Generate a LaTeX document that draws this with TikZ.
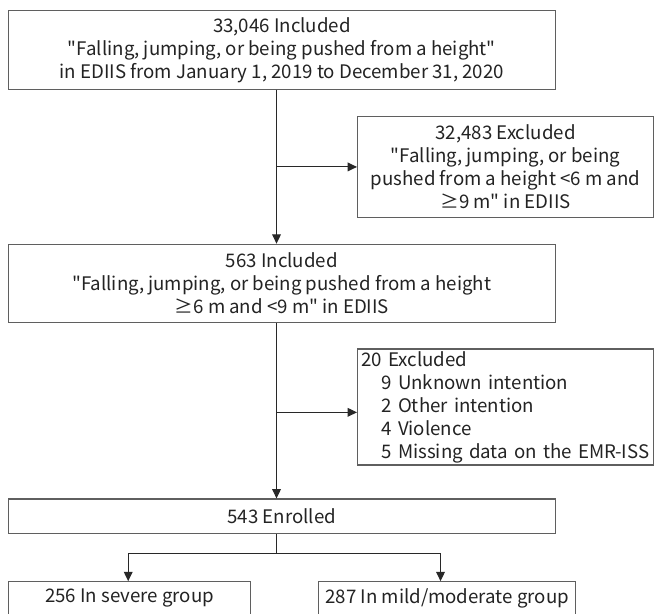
\documentclass[tikz,border=0pt]{standalone}
\usepackage{fontspec}
\setmainfont{Noto Sans CJK KR}
\usepackage{tikz}
\usetikzlibrary{arrows.meta, positioning, calc}
\usepackage{xcolor}
\definecolor{FlowLine}{RGB}{40, 40, 40}
\definecolor{FlowBorder}{RGB}{95, 95, 95}
\definecolor{FlowText}{RGB}{35, 35, 35}
\newcommand{\dq}{\textquotedbl}
\newcommand{\exline}[1]{\hspace*{15pt}\mbox{#1}}
\tikzset{
  mainbox/.style={rectangle, draw=FlowBorder, line width=0.8pt, fill=white,
                  minimum width=410pt, minimum height=#1, inner sep=2pt,
                  font=\fontsize{14}{17.25}\selectfont, text=FlowText, align=center},
  exclbox/.style={rectangle, draw=FlowBorder, line width=0.8pt, fill=white,
                  minimum width=222pt, minimum height=#1, inner sep=2pt,
                  font=\fontsize{14}{17.25}\selectfont, text=FlowText, align=center},
  grpbox/.style={rectangle, draw=FlowBorder, line width=0.8pt, fill=white,
                 minimum width=#1, minimum height=25pt, inner sep=2pt,
                 font=\fontsize{14}{17.25}\selectfont, text=FlowText, align=center},
  arr/.style={-{Triangle[length=7pt, width=6.5pt]}, line width=0.8pt, color=FlowLine},
  link/.style={line width=0.8pt, color=FlowLine},
}

\begin{document}
\begin{tikzpicture}[x=0.75pt, y=-0.75pt]
  \useasboundingbox (0,0) rectangle (655,613);
  \node[mainbox=59pt, anchor=north west] (inc) at (8,10)
    {33,046 Included\\\dq Falling, jumping, or being pushed from a height\dq\\in EDIIS from January 1, 2019 to December 31, 2020};
  \node[exclbox=76pt, anchor=north west] (exa) at ([xshift=261.75pt, yshift=-19.5pt]inc.south west)
    {32,483 Excluded\\\dq Falling, jumping, or being\\pushed from a height <6 m and\\≥9 m\dq\ in EDIIS};
  \node[mainbox=59pt, below=115.5pt of inc] (sel)
    {563 Included\\\dq Falling, jumping, or being pushed from a height\\≥6 m and <9 m\dq\ in EDIIS};
  \node[exclbox=87pt, inner xsep=3pt, inner ysep=0pt, text width=216pt, align=left, anchor=north west] (exb)
    at ([xshift=261.75pt, yshift=-18.75pt]sel.south west)
    {20 Excluded\\\exline{9 Unknown intention}\\\exline{2 Other intention}\\\exline{4 Violence}\\\exline{5 Missing data on the EMR-ISS}};
  \node[mainbox=26pt, below=131.25pt of sel] (enr) {543 Enrolled};
  \node[grpbox=181.5pt, anchor=north west] (sev) at ([yshift=-35.25pt]enr.south west)
    {256 In severe group};
  \node[grpbox=193pt, anchor=north west] (mod) at ([xshift=232.5pt, yshift=-35.25pt]enr.south west)
    {287 In mild/moderate group};

  % main trunk
  \coordinate (t1) at ([xshift=-4pt]inc.south);
  \coordinate (t2) at ([xshift=-4pt]sel.south);
  \coordinate (t3) at ([xshift=-4pt]enr.south);
  \coordinate (exbin) at ([yshift=-4pt]exb.west);
  \draw[arr] (t1) -- (t1 |- sel.north);
  \draw[arr] (t1 |- exa.west) -- (exa.west);
  \draw[arr] (t2) -- (t2 |- enr.north);
  \draw[arr] (t2 |- exbin) -- (exbin);

  % split into groups
  \coordinate (split) at ([yshift=-14.25pt]t3);
  \draw[link] (t3) -- (split);
  \draw[arr] (split) -| ([xshift=-1pt]sev.north);
  \draw[arr] (split) -| ([xshift=-5pt]mod.north);
\end{tikzpicture}
\end{document}
